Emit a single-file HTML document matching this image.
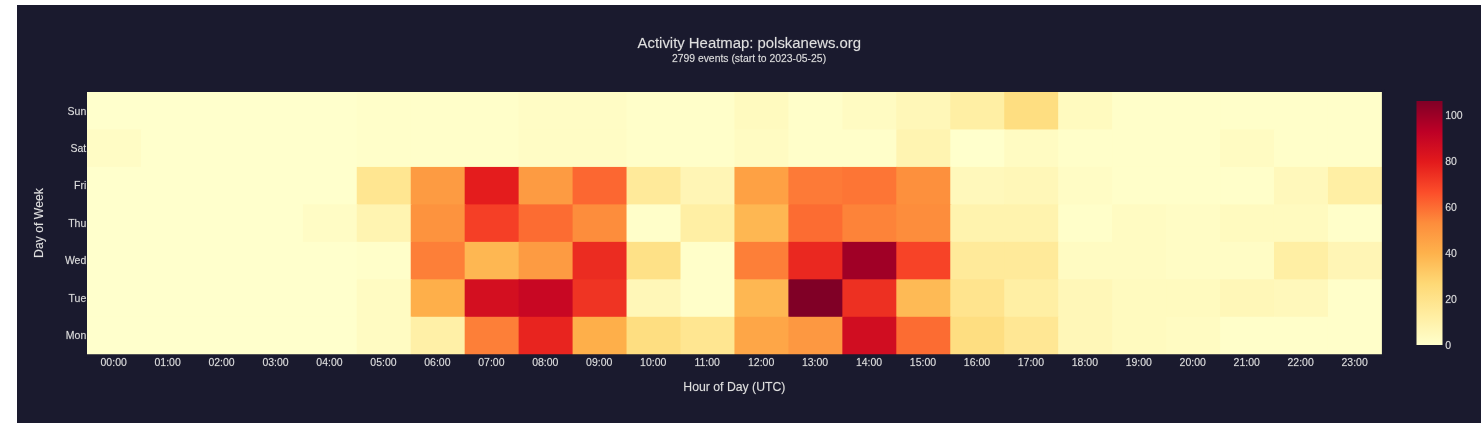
<!DOCTYPE html>
<html lang="en"><head><meta charset="utf-8"><title>Activity Heatmap: polskanews.org</title>
<style>html,body{margin:0;padding:0;background:#fff;}body{width:1481px;height:423px;overflow:hidden;}svg{display:block;}text{font-family:"Liberation Sans",sans-serif;fill:#e0e0e0;stroke:#e0e0e0;stroke-width:0.3px;stroke-opacity:0.35;}</style></head><body>
<svg width="1481" height="423" viewBox="0 0 1481 423">
<defs><linearGradient id="cb" x1="0" y1="1" x2="0" y2="0">
<stop offset="0.0000" stop-color="rgb(255,255,204)"/>
<stop offset="0.1250" stop-color="rgb(255,237,160)"/>
<stop offset="0.2500" stop-color="rgb(254,217,118)"/>
<stop offset="0.3750" stop-color="rgb(254,178,76)"/>
<stop offset="0.5000" stop-color="rgb(253,141,60)"/>
<stop offset="0.6250" stop-color="rgb(252,78,42)"/>
<stop offset="0.7500" stop-color="rgb(227,26,28)"/>
<stop offset="0.8750" stop-color="rgb(189,0,38)"/>
<stop offset="1.0000" stop-color="rgb(128,0,38)"/>
</linearGradient></defs>
<rect x="0" y="0" width="1481" height="423" fill="#ffffff"/>
<rect x="17" y="5" width="1464" height="418" fill="#1a1a2e"/>
<g>
<rect x="85.50" y="90.50" width="56.45" height="39.96" fill="rgb(255,255,204)"/>
<rect x="140.95" y="90.50" width="54.95" height="39.96" fill="rgb(255,255,204)"/>
<rect x="194.91" y="90.50" width="54.95" height="39.96" fill="rgb(255,255,204)"/>
<rect x="248.86" y="90.50" width="54.95" height="39.96" fill="rgb(255,255,204)"/>
<rect x="302.82" y="90.50" width="54.95" height="39.96" fill="rgb(255,255,204)"/>
<rect x="356.77" y="90.50" width="54.95" height="39.96" fill="rgb(255,254,201)"/>
<rect x="410.73" y="90.50" width="54.95" height="39.96" fill="rgb(255,254,201)"/>
<rect x="464.68" y="90.50" width="54.95" height="39.96" fill="rgb(255,254,201)"/>
<rect x="518.63" y="90.50" width="54.95" height="39.96" fill="rgb(255,252,197)"/>
<rect x="572.59" y="90.50" width="54.95" height="39.96" fill="rgb(255,252,197)"/>
<rect x="626.54" y="90.50" width="54.95" height="39.96" fill="rgb(255,254,201)"/>
<rect x="680.50" y="90.50" width="54.95" height="39.96" fill="rgb(255,254,201)"/>
<rect x="734.45" y="90.50" width="54.95" height="39.96" fill="rgb(255,250,191)"/>
<rect x="788.40" y="90.50" width="54.95" height="39.96" fill="rgb(255,254,201)"/>
<rect x="842.36" y="90.50" width="54.95" height="39.96" fill="rgb(255,251,194)"/>
<rect x="896.31" y="90.50" width="54.95" height="39.96" fill="rgb(255,247,184)"/>
<rect x="950.27" y="90.50" width="54.95" height="39.96" fill="rgb(255,239,164)"/>
<rect x="1004.22" y="90.50" width="54.95" height="39.96" fill="rgb(254,222,129)"/>
<rect x="1058.18" y="90.50" width="54.95" height="39.96" fill="rgb(255,250,191)"/>
<rect x="1112.13" y="90.50" width="54.95" height="39.96" fill="rgb(255,254,201)"/>
<rect x="1166.08" y="90.50" width="54.95" height="39.96" fill="rgb(255,254,201)"/>
<rect x="1220.04" y="90.50" width="54.95" height="39.96" fill="rgb(255,254,201)"/>
<rect x="1273.99" y="90.50" width="54.95" height="39.96" fill="rgb(255,254,201)"/>
<rect x="1327.95" y="90.50" width="55.45" height="39.96" fill="rgb(255,254,201)"/>
<rect x="85.50" y="129.46" width="56.45" height="38.46" fill="rgb(255,252,197)"/>
<rect x="140.95" y="129.46" width="54.95" height="38.46" fill="rgb(255,255,204)"/>
<rect x="194.91" y="129.46" width="54.95" height="38.46" fill="rgb(255,255,204)"/>
<rect x="248.86" y="129.46" width="54.95" height="38.46" fill="rgb(255,255,204)"/>
<rect x="302.82" y="129.46" width="54.95" height="38.46" fill="rgb(255,255,204)"/>
<rect x="356.77" y="129.46" width="54.95" height="38.46" fill="rgb(255,254,201)"/>
<rect x="410.73" y="129.46" width="54.95" height="38.46" fill="rgb(255,254,201)"/>
<rect x="464.68" y="129.46" width="54.95" height="38.46" fill="rgb(255,254,201)"/>
<rect x="518.63" y="129.46" width="54.95" height="38.46" fill="rgb(255,252,197)"/>
<rect x="572.59" y="129.46" width="54.95" height="38.46" fill="rgb(255,252,197)"/>
<rect x="626.54" y="129.46" width="54.95" height="38.46" fill="rgb(255,254,201)"/>
<rect x="680.50" y="129.46" width="54.95" height="38.46" fill="rgb(255,254,201)"/>
<rect x="734.45" y="129.46" width="54.95" height="38.46" fill="rgb(255,251,194)"/>
<rect x="788.40" y="129.46" width="54.95" height="38.46" fill="rgb(255,254,201)"/>
<rect x="842.36" y="129.46" width="54.95" height="38.46" fill="rgb(255,254,201)"/>
<rect x="896.31" y="129.46" width="54.95" height="38.46" fill="rgb(255,244,177)"/>
<rect x="950.27" y="129.46" width="54.95" height="38.46" fill="rgb(255,255,204)"/>
<rect x="1004.22" y="129.46" width="54.95" height="38.46" fill="rgb(255,251,194)"/>
<rect x="1058.18" y="129.46" width="54.95" height="38.46" fill="rgb(255,254,201)"/>
<rect x="1112.13" y="129.46" width="54.95" height="38.46" fill="rgb(255,254,201)"/>
<rect x="1166.08" y="129.46" width="54.95" height="38.46" fill="rgb(255,254,201)"/>
<rect x="1220.04" y="129.46" width="54.95" height="38.46" fill="rgb(255,251,194)"/>
<rect x="1273.99" y="129.46" width="54.95" height="38.46" fill="rgb(255,254,201)"/>
<rect x="1327.95" y="129.46" width="55.45" height="38.46" fill="rgb(255,254,201)"/>
<rect x="85.50" y="166.93" width="56.45" height="38.46" fill="rgb(255,255,204)"/>
<rect x="140.95" y="166.93" width="54.95" height="38.46" fill="rgb(255,255,204)"/>
<rect x="194.91" y="166.93" width="54.95" height="38.46" fill="rgb(255,255,204)"/>
<rect x="248.86" y="166.93" width="54.95" height="38.46" fill="rgb(255,255,204)"/>
<rect x="302.82" y="166.93" width="54.95" height="38.46" fill="rgb(255,255,204)"/>
<rect x="356.77" y="166.93" width="54.95" height="38.46" fill="rgb(255,230,145)"/>
<rect x="410.73" y="166.93" width="54.95" height="38.46" fill="rgb(253,155,66)"/>
<rect x="464.68" y="166.93" width="54.95" height="38.46" fill="rgb(228,28,29)"/>
<rect x="518.63" y="166.93" width="54.95" height="38.46" fill="rgb(253,155,66)"/>
<rect x="572.59" y="166.93" width="54.95" height="38.46" fill="rgb(252,103,49)"/>
<rect x="626.54" y="166.93" width="54.95" height="38.46" fill="rgb(255,234,154)"/>
<rect x="680.50" y="166.93" width="54.95" height="38.46" fill="rgb(255,245,181)"/>
<rect x="734.45" y="166.93" width="54.95" height="38.46" fill="rgb(254,161,68)"/>
<rect x="788.40" y="166.93" width="54.95" height="38.46" fill="rgb(253,122,55)"/>
<rect x="842.36" y="166.93" width="54.95" height="38.46" fill="rgb(253,117,53)"/>
<rect x="896.31" y="166.93" width="54.95" height="38.46" fill="rgb(253,144,61)"/>
<rect x="950.27" y="166.93" width="54.95" height="38.46" fill="rgb(255,248,187)"/>
<rect x="1004.22" y="166.93" width="54.95" height="38.46" fill="rgb(255,247,184)"/>
<rect x="1058.18" y="166.93" width="54.95" height="38.46" fill="rgb(255,252,197)"/>
<rect x="1112.13" y="166.93" width="54.95" height="38.46" fill="rgb(255,254,201)"/>
<rect x="1166.08" y="166.93" width="54.95" height="38.46" fill="rgb(255,254,201)"/>
<rect x="1220.04" y="166.93" width="54.95" height="38.46" fill="rgb(255,254,201)"/>
<rect x="1273.99" y="166.93" width="54.95" height="38.46" fill="rgb(255,248,187)"/>
<rect x="1327.95" y="166.93" width="55.45" height="38.46" fill="rgb(255,239,164)"/>
<rect x="85.50" y="204.39" width="56.45" height="38.46" fill="rgb(255,255,204)"/>
<rect x="140.95" y="204.39" width="54.95" height="38.46" fill="rgb(255,255,204)"/>
<rect x="194.91" y="204.39" width="54.95" height="38.46" fill="rgb(255,255,204)"/>
<rect x="248.86" y="204.39" width="54.95" height="38.46" fill="rgb(255,255,204)"/>
<rect x="302.82" y="204.39" width="54.95" height="38.46" fill="rgb(255,252,197)"/>
<rect x="356.77" y="204.39" width="54.95" height="38.46" fill="rgb(255,244,177)"/>
<rect x="410.73" y="204.39" width="54.95" height="38.46" fill="rgb(253,147,62)"/>
<rect x="464.68" y="204.39" width="54.95" height="38.46" fill="rgb(245,63,38)"/>
<rect x="518.63" y="204.39" width="54.95" height="38.46" fill="rgb(252,108,50)"/>
<rect x="572.59" y="204.39" width="54.95" height="38.46" fill="rgb(253,141,60)"/>
<rect x="626.54" y="204.39" width="54.95" height="38.46" fill="rgb(255,254,201)"/>
<rect x="680.50" y="204.39" width="54.95" height="38.46" fill="rgb(255,239,164)"/>
<rect x="734.45" y="204.39" width="54.95" height="38.46" fill="rgb(254,183,82)"/>
<rect x="788.40" y="204.39" width="54.95" height="38.46" fill="rgb(252,108,50)"/>
<rect x="842.36" y="204.39" width="54.95" height="38.46" fill="rgb(253,131,57)"/>
<rect x="896.31" y="204.39" width="54.95" height="38.46" fill="rgb(253,141,60)"/>
<rect x="950.27" y="204.39" width="54.95" height="38.46" fill="rgb(255,243,174)"/>
<rect x="1004.22" y="204.39" width="54.95" height="38.46" fill="rgb(255,243,174)"/>
<rect x="1058.18" y="204.39" width="54.95" height="38.46" fill="rgb(255,254,201)"/>
<rect x="1112.13" y="204.39" width="54.95" height="38.46" fill="rgb(255,251,194)"/>
<rect x="1166.08" y="204.39" width="54.95" height="38.46" fill="rgb(255,252,197)"/>
<rect x="1220.04" y="204.39" width="54.95" height="38.46" fill="rgb(255,250,191)"/>
<rect x="1273.99" y="204.39" width="54.95" height="38.46" fill="rgb(255,250,191)"/>
<rect x="1327.95" y="204.39" width="55.45" height="38.46" fill="rgb(255,254,201)"/>
<rect x="85.50" y="241.86" width="56.45" height="38.46" fill="rgb(255,255,204)"/>
<rect x="140.95" y="241.86" width="54.95" height="38.46" fill="rgb(255,255,204)"/>
<rect x="194.91" y="241.86" width="54.95" height="38.46" fill="rgb(255,255,204)"/>
<rect x="248.86" y="241.86" width="54.95" height="38.46" fill="rgb(255,255,204)"/>
<rect x="302.82" y="241.86" width="54.95" height="38.46" fill="rgb(255,255,204)"/>
<rect x="356.77" y="241.86" width="54.95" height="38.46" fill="rgb(255,254,201)"/>
<rect x="410.73" y="241.86" width="54.95" height="38.46" fill="rgb(253,127,56)"/>
<rect x="464.68" y="241.86" width="54.95" height="38.46" fill="rgb(254,183,82)"/>
<rect x="518.63" y="241.86" width="54.95" height="38.46" fill="rgb(253,155,66)"/>
<rect x="572.59" y="241.86" width="54.95" height="38.46" fill="rgb(235,44,33)"/>
<rect x="626.54" y="241.86" width="54.95" height="38.46" fill="rgb(254,225,135)"/>
<rect x="680.50" y="241.86" width="54.95" height="38.46" fill="rgb(255,254,201)"/>
<rect x="734.45" y="241.86" width="54.95" height="38.46" fill="rgb(253,127,56)"/>
<rect x="788.40" y="241.86" width="54.95" height="38.46" fill="rgb(234,40,32)"/>
<rect x="842.36" y="241.86" width="54.95" height="38.46" fill="rgb(160,0,38)"/>
<rect x="896.31" y="241.86" width="54.95" height="38.46" fill="rgb(247,67,39)"/>
<rect x="950.27" y="241.86" width="54.95" height="38.46" fill="rgb(255,234,154)"/>
<rect x="1004.22" y="241.86" width="54.95" height="38.46" fill="rgb(255,234,154)"/>
<rect x="1058.18" y="241.86" width="54.95" height="38.46" fill="rgb(255,251,194)"/>
<rect x="1112.13" y="241.86" width="54.95" height="38.46" fill="rgb(255,251,194)"/>
<rect x="1166.08" y="241.86" width="54.95" height="38.46" fill="rgb(255,252,197)"/>
<rect x="1220.04" y="241.86" width="54.95" height="38.46" fill="rgb(255,252,197)"/>
<rect x="1273.99" y="241.86" width="54.95" height="38.46" fill="rgb(255,239,164)"/>
<rect x="1327.95" y="241.86" width="55.45" height="38.46" fill="rgb(255,245,181)"/>
<rect x="85.50" y="279.32" width="56.45" height="38.46" fill="rgb(255,255,204)"/>
<rect x="140.95" y="279.32" width="54.95" height="38.46" fill="rgb(255,255,204)"/>
<rect x="194.91" y="279.32" width="54.95" height="38.46" fill="rgb(255,255,204)"/>
<rect x="248.86" y="279.32" width="54.95" height="38.46" fill="rgb(255,255,204)"/>
<rect x="302.82" y="279.32" width="54.95" height="38.46" fill="rgb(255,255,204)"/>
<rect x="356.77" y="279.32" width="54.95" height="38.46" fill="rgb(255,251,194)"/>
<rect x="410.73" y="279.32" width="54.95" height="38.46" fill="rgb(254,175,74)"/>
<rect x="464.68" y="279.32" width="54.95" height="38.46" fill="rgb(211,15,32)"/>
<rect x="518.63" y="279.32" width="54.95" height="38.46" fill="rgb(200,7,35)"/>
<rect x="572.59" y="279.32" width="54.95" height="38.46" fill="rgb(239,52,35)"/>
<rect x="626.54" y="279.32" width="54.95" height="38.46" fill="rgb(255,247,184)"/>
<rect x="680.50" y="279.32" width="54.95" height="38.46" fill="rgb(255,254,201)"/>
<rect x="734.45" y="279.32" width="54.95" height="38.46" fill="rgb(254,183,82)"/>
<rect x="788.40" y="279.32" width="54.95" height="38.46" fill="rgb(128,0,38)"/>
<rect x="842.36" y="279.32" width="54.95" height="38.46" fill="rgb(237,48,34)"/>
<rect x="896.31" y="279.32" width="54.95" height="38.46" fill="rgb(254,186,85)"/>
<rect x="950.27" y="279.32" width="54.95" height="38.46" fill="rgb(255,228,142)"/>
<rect x="1004.22" y="279.32" width="54.95" height="38.46" fill="rgb(255,239,164)"/>
<rect x="1058.18" y="279.32" width="54.95" height="38.46" fill="rgb(255,247,184)"/>
<rect x="1112.13" y="279.32" width="54.95" height="38.46" fill="rgb(255,250,191)"/>
<rect x="1166.08" y="279.32" width="54.95" height="38.46" fill="rgb(255,250,191)"/>
<rect x="1220.04" y="279.32" width="54.95" height="38.46" fill="rgb(255,247,184)"/>
<rect x="1273.99" y="279.32" width="54.95" height="38.46" fill="rgb(255,248,187)"/>
<rect x="1327.95" y="279.32" width="55.45" height="38.46" fill="rgb(255,254,201)"/>
<rect x="85.50" y="316.79" width="56.45" height="38.96" fill="rgb(255,255,204)"/>
<rect x="140.95" y="316.79" width="54.95" height="38.96" fill="rgb(255,255,204)"/>
<rect x="194.91" y="316.79" width="54.95" height="38.96" fill="rgb(255,255,204)"/>
<rect x="248.86" y="316.79" width="54.95" height="38.96" fill="rgb(255,255,204)"/>
<rect x="302.82" y="316.79" width="54.95" height="38.96" fill="rgb(255,255,204)"/>
<rect x="356.77" y="316.79" width="54.95" height="38.96" fill="rgb(255,251,194)"/>
<rect x="410.73" y="316.79" width="54.95" height="38.96" fill="rgb(255,240,167)"/>
<rect x="464.68" y="316.79" width="54.95" height="38.96" fill="rgb(253,127,56)"/>
<rect x="518.63" y="316.79" width="54.95" height="38.96" fill="rgb(232,36,31)"/>
<rect x="572.59" y="316.79" width="54.95" height="38.96" fill="rgb(254,175,74)"/>
<rect x="626.54" y="316.79" width="54.95" height="38.96" fill="rgb(254,222,129)"/>
<rect x="680.50" y="316.79" width="54.95" height="38.96" fill="rgb(255,230,145)"/>
<rect x="734.45" y="316.79" width="54.95" height="38.96" fill="rgb(254,166,71)"/>
<rect x="788.40" y="316.79" width="54.95" height="38.96" fill="rgb(253,152,65)"/>
<rect x="842.36" y="316.79" width="54.95" height="38.96" fill="rgb(208,13,33)"/>
<rect x="896.31" y="316.79" width="54.95" height="38.96" fill="rgb(252,108,50)"/>
<rect x="950.27" y="316.79" width="54.95" height="38.96" fill="rgb(254,222,129)"/>
<rect x="1004.22" y="316.79" width="54.95" height="38.96" fill="rgb(255,231,148)"/>
<rect x="1058.18" y="316.79" width="54.95" height="38.96" fill="rgb(255,247,184)"/>
<rect x="1112.13" y="316.79" width="54.95" height="38.96" fill="rgb(255,250,191)"/>
<rect x="1166.08" y="316.79" width="54.95" height="38.96" fill="rgb(255,251,194)"/>
<rect x="1220.04" y="316.79" width="54.95" height="38.96" fill="rgb(255,254,201)"/>
<rect x="1273.99" y="316.79" width="54.95" height="38.96" fill="rgb(255,254,201)"/>
<rect x="1327.95" y="316.79" width="55.45" height="38.96" fill="rgb(255,254,201)"/>
</g>
<g fill="#1a1a2e">
<rect x="84.00" y="89.00" width="1300.90" height="3.00"/>
<rect x="84.00" y="354.25" width="1300.90" height="3.00"/>
<rect x="84.00" y="89.00" width="3.00" height="268.25"/>
<rect x="1381.90" y="89.00" width="3.00" height="268.25"/>
</g>
<text x="86.30" y="114.53" font-size="10.5" text-anchor="end">Sun</text>
<text x="86.30" y="152.00" font-size="10.5" text-anchor="end">Sat</text>
<text x="86.30" y="189.46" font-size="10.5" text-anchor="end">Fri</text>
<text x="86.30" y="226.93" font-size="10.5" text-anchor="end">Thu</text>
<text x="86.30" y="264.39" font-size="10.5" text-anchor="end">Wed</text>
<text x="86.30" y="301.85" font-size="10.5" text-anchor="end">Tue</text>
<text x="86.30" y="339.32" font-size="10.5" text-anchor="end">Mon</text>
<text x="113.68" y="365.70" font-size="10.5" text-anchor="middle">00:00</text>
<text x="167.63" y="365.70" font-size="10.5" text-anchor="middle">01:00</text>
<text x="221.59" y="365.70" font-size="10.5" text-anchor="middle">02:00</text>
<text x="275.54" y="365.70" font-size="10.5" text-anchor="middle">03:00</text>
<text x="329.49" y="365.70" font-size="10.5" text-anchor="middle">04:00</text>
<text x="383.45" y="365.70" font-size="10.5" text-anchor="middle">05:00</text>
<text x="437.40" y="365.70" font-size="10.5" text-anchor="middle">06:00</text>
<text x="491.36" y="365.70" font-size="10.5" text-anchor="middle">07:00</text>
<text x="545.31" y="365.70" font-size="10.5" text-anchor="middle">08:00</text>
<text x="599.26" y="365.70" font-size="10.5" text-anchor="middle">09:00</text>
<text x="653.22" y="365.70" font-size="10.5" text-anchor="middle">10:00</text>
<text x="707.17" y="365.70" font-size="10.5" text-anchor="middle">11:00</text>
<text x="761.13" y="365.70" font-size="10.5" text-anchor="middle">12:00</text>
<text x="815.08" y="365.70" font-size="10.5" text-anchor="middle">13:00</text>
<text x="869.04" y="365.70" font-size="10.5" text-anchor="middle">14:00</text>
<text x="922.99" y="365.70" font-size="10.5" text-anchor="middle">15:00</text>
<text x="976.94" y="365.70" font-size="10.5" text-anchor="middle">16:00</text>
<text x="1030.90" y="365.70" font-size="10.5" text-anchor="middle">17:00</text>
<text x="1084.85" y="365.70" font-size="10.5" text-anchor="middle">18:00</text>
<text x="1138.81" y="365.70" font-size="10.5" text-anchor="middle">19:00</text>
<text x="1192.76" y="365.70" font-size="10.5" text-anchor="middle">20:00</text>
<text x="1246.71" y="365.70" font-size="10.5" text-anchor="middle">21:00</text>
<text x="1300.67" y="365.70" font-size="10.5" text-anchor="middle">22:00</text>
<text x="1354.62" y="365.70" font-size="10.5" text-anchor="middle">23:00</text>
<rect x="1416.5" y="101" width="26" height="244" fill="url(#cb)"/>
<text x="1445.20" y="348.60" font-size="10.5">0</text>
<text x="1445.20" y="302.74" font-size="10.5">20</text>
<text x="1445.20" y="256.88" font-size="10.5">40</text>
<text x="1445.20" y="211.02" font-size="10.5">60</text>
<text x="1445.20" y="165.16" font-size="10.5">80</text>
<text x="1445.20" y="119.30" font-size="10.5">100</text>
<text x="749.30" y="48.40" font-size="14.9" text-anchor="middle">Activity Heatmap: polskanews.org</text>
<text x="749.00" y="61.90" font-size="10.4" text-anchor="middle">2799 events (start to 2023-05-25)</text>
<text x="734.40" y="391.10" font-size="12.25" text-anchor="middle">Hour of Day (UTC)</text>
<text transform="translate(43.00,223.00) rotate(-90)" font-size="12.25" text-anchor="middle">Day of Week</text>
</svg></body></html>
